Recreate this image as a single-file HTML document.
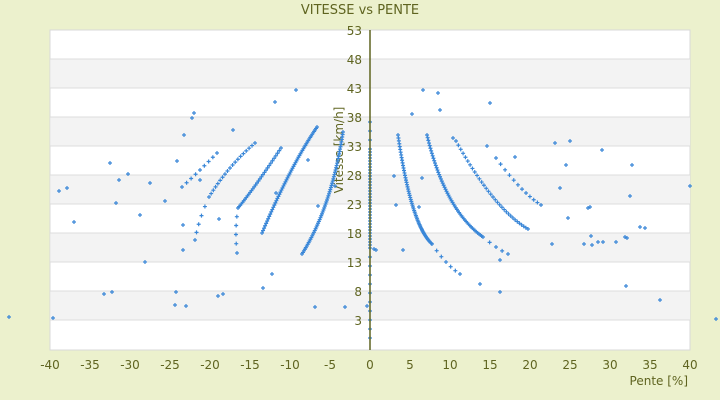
<!DOCTYPE html>
<html><head><meta charset="utf-8"><style>
body{margin:0;background:#ecf1cd;}
svg{display:block;font-family:"DejaVu Sans","Liberation Sans",sans-serif;}
</style></head><body>
<svg id="s" width="720" height="400" viewBox="0 0 720 400">
<rect width="720" height="400" fill="#ecf1cd"/>
<text x="360" y="14" text-anchor="middle" font-size="13" fill="#5f6420">VITESSE vs PENTE</text>
<rect x="50" y="30" width="640" height="320" fill="#fff" stroke="#d9d9d9"/>
<g fill="#f3f3f3">
<rect x="51" y="59" width="639" height="29"/><rect x="51" y="117" width="639" height="29"/>
<rect x="51" y="175" width="639" height="29"/><rect x="51" y="233" width="639" height="29"/>
<rect x="51" y="291" width="639" height="29"/>
</g>
<g stroke="#dcdcdc" stroke-width="1">
<line x1="50" x2="690" y1="59" y2="59"/><line x1="50" x2="690" y1="88" y2="88"/>
<line x1="50" x2="690" y1="117" y2="117"/><line x1="50" x2="690" y1="146" y2="146"/>
<line x1="50" x2="690" y1="175" y2="175"/><line x1="50" x2="690" y1="204" y2="204"/>
<line x1="50" x2="690" y1="233" y2="233"/><line x1="50" x2="690" y1="262" y2="262"/>
<line x1="50" x2="690" y1="291" y2="291"/><line x1="50" x2="690" y1="320" y2="320"/>
</g>
<g font-size="12" fill="#5f6420" text-anchor="end">
<text x="362" y="35">53</text><text x="362" y="64">48</text><text x="362" y="93">43</text>
<text x="362" y="122">38</text><text x="362" y="151">33</text><text x="362" y="180">28</text>
<text x="362" y="209">23</text><text x="362" y="238">18</text><text x="362" y="267">13</text>
<text x="362" y="296">8</text><text x="362" y="325">3</text>
</g>
<g font-size="12" fill="#5f6420" text-anchor="middle">
<text x="50" y="369">-40</text><text x="90" y="369">-35</text><text x="130" y="369">-30</text>
<text x="170" y="369">-25</text><text x="210" y="369">-20</text><text x="250" y="369">-15</text>
<text x="290" y="369">-10</text><text x="330" y="369">-5</text><text x="370" y="369">0</text>
<text x="410" y="369">5</text><text x="450" y="369">10</text><text x="490" y="369">15</text>
<text x="530" y="369">20</text><text x="570" y="369">25</text><text x="610" y="369">30</text>
<text x="650" y="369">35</text><text x="690" y="369">40</text>
</g>
<text x="688" y="385" font-size="12" fill="#5f6420" text-anchor="end">Pente [%]</text>
<text transform="translate(343,150) rotate(-90)" font-size="12" fill="#5f6420" text-anchor="middle">Vitesse [km/h]</text>
<g id="pts" stroke="#3a87d8" stroke-width="1.2"></g>
<line x1="370" y1="30" x2="370" y2="350" stroke="#5f6420" stroke-width="1.5"/>
</svg>
<script>
var g=document.getElementById('pts'),d='';
function p(x,y){d+='M'+(x-2)+' '+y+'h4M'+x+' '+(y-2)+'v4';}
var curves=[
[[398,135],[413,207],[432,244],60],[[432,244],[446,262],[460,274],6],
[[427,135],[450,198],[483,237],55],[[483,237],[496,247],[508,254],4],
[[456,141],[493,197],[528,229],32],
[[496,158],[520,187],[541,205],11],
[[343,132],[327,200],[302,254],60],
[[317,127],[290,173],[262,233],55],
[[281,148],[257,183],[238,208],30],[[238,208],[236,230],[237,253],5],
[[255,143],[230,168],[209,197],18],[[209,197],[200,220],[195,240],5],
[[217,153],[200,170],[182,187],8]];
curves.forEach(function(c){var a=c[0],m=c[1],b=c[2],n=c[3];
var cx=(m[0]-.25*a[0]-.25*b[0])/.5,cy=(m[1]-.25*a[1]-.25*b[1])/.5;
for(var i=0;i<=n;i++){var t=i/n,u=1-t;p(u*u*a[0]+2*u*t*cx+t*t*b[0],u*u*a[1]+2*u*t*cy+t*t*b[1]);}});
for(var y=122,k=0;y<345;y+=3,k++){if((y>150&&y<250)||k%3==0)p(370,y);}
[[9,317],[53,318],[59,191],[67,188],[74,222],[104,294],[112,292],[110,163],[116,203],[119,180],[128,174],[140,215],[145,262],[150,183],[165,201],[175,305],[176,292],[177,161],[183,225],[184,135],[183,250],[186,306],[192,118],[194,113],[200,180],[219,219],[218,296],[223,294],[233,130],[263,288],[272,274],[276,193],[275,102],[296,90],[315,307],[335,186],[345,307],[367,306],[308,160],[318,206],[412,114],[423,90],[438,93],[440,110],[490,103],[453,138],[487,146],[394,176],[396,205],[422,178],[419,207],[555,143],[570,141],[566,165],[560,188],[568,218],[552,244],[590,207],[588,208],[603,242],[591,236],[602,150],[632,165],[625,237],[640,227],[626,286],[630,196],[616,242],[645,228],[627,238],[592,245],[598,242],[660,300],[584,244],[690,186],[716,319],[515,157],[480,284],[500,292],[500,260],[403,250],[374,249],[376,250]].forEach(function(q){p(q[0],q[1]);});
var path=document.createElementNS('http://www.w3.org/2000/svg','path');path.setAttribute('d',d);g.appendChild(path);
</script>
</body></html>
